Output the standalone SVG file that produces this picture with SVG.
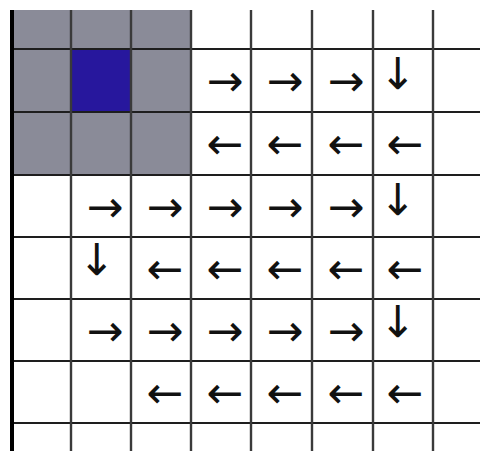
<svg xmlns="http://www.w3.org/2000/svg" width="480" height="451" viewBox="0 0 480 451">
<style>
.g{fill:#8a8b98}
.b{fill:#27179d}
.h{stroke:#1e1e1e;stroke-width:2}
.v{stroke:#3a3a3a;stroke-width:2.4}
.a{font-family:"DejaVu Sans",sans-serif;font-size:44px;fill:#111;text-anchor:middle}
</style>
<rect width="480" height="451" fill="#fff"/>
<g id="shaded">
<rect class="g" x="12" y="10" width="179" height="165"/>
<rect class="b" x="71" y="49" width="60" height="63"/>
</g>
<g id="grid">
<line class="h" x1="12" y1="49" x2="480" y2="49"/>
<line class="h" x1="12" y1="112" x2="480" y2="112"/>
<line class="h" x1="12" y1="175" x2="480" y2="175"/>
<line class="h" x1="12" y1="237" x2="480" y2="237"/>
<line class="h" x1="12" y1="299" x2="480" y2="299"/>
<line class="h" x1="12" y1="361" x2="480" y2="361"/>
<line class="h" x1="12" y1="423" x2="480" y2="423"/>
<line class="v" x1="71" y1="10" x2="71" y2="451"/>
<line class="v" x1="131" y1="10" x2="131" y2="451"/>
<line class="v" x1="191" y1="10" x2="191" y2="451"/>
<line class="v" x1="251" y1="10" x2="251" y2="451"/>
<line class="v" x1="312" y1="10" x2="312" y2="451"/>
<line class="v" x1="373" y1="10" x2="373" y2="451"/>
<line class="v" x1="433" y1="10" x2="433" y2="451"/>
<line x1="12" y1="10" x2="12" y2="451" stroke="#000" stroke-width="4"/>
</g>
<g id="arrows">
<g id="r1"><text class="a" x="225" y="96">→</text><text class="a" x="285" y="96">→</text><text class="a" x="346" y="96">→</text><text class="a" x="398" y="89">↓</text></g>
<g id="r2"><text class="a" x="225" y="159">←</text><text class="a" x="285" y="159">←</text><text class="a" x="346" y="159">←</text><text class="a" x="405" y="159">←</text></g>
<g id="r3"><text class="a" x="105" y="222">→</text><text class="a" x="165" y="222">→</text><text class="a" x="225" y="222">→</text><text class="a" x="285" y="222">→</text><text class="a" x="346" y="222">→</text><text class="a" x="398" y="215">↓</text></g>
<g id="r4"><text class="a" x="97" y="275">↓</text><text class="a" x="165" y="284">←</text><text class="a" x="225" y="284">←</text><text class="a" x="285" y="284">←</text><text class="a" x="346" y="284">←</text><text class="a" x="405" y="284">←</text></g>
<g id="r5"><text class="a" x="105" y="346">→</text><text class="a" x="165" y="346">→</text><text class="a" x="225" y="346">→</text><text class="a" x="285" y="346">→</text><text class="a" x="346" y="346">→</text><text class="a" x="398" y="337">↓</text></g>
<g id="r6"><text class="a" x="165" y="408">←</text><text class="a" x="225" y="408">←</text><text class="a" x="285" y="408">←</text><text class="a" x="346" y="408">←</text><text class="a" x="405" y="408">←</text></g>
</g>
</svg>
